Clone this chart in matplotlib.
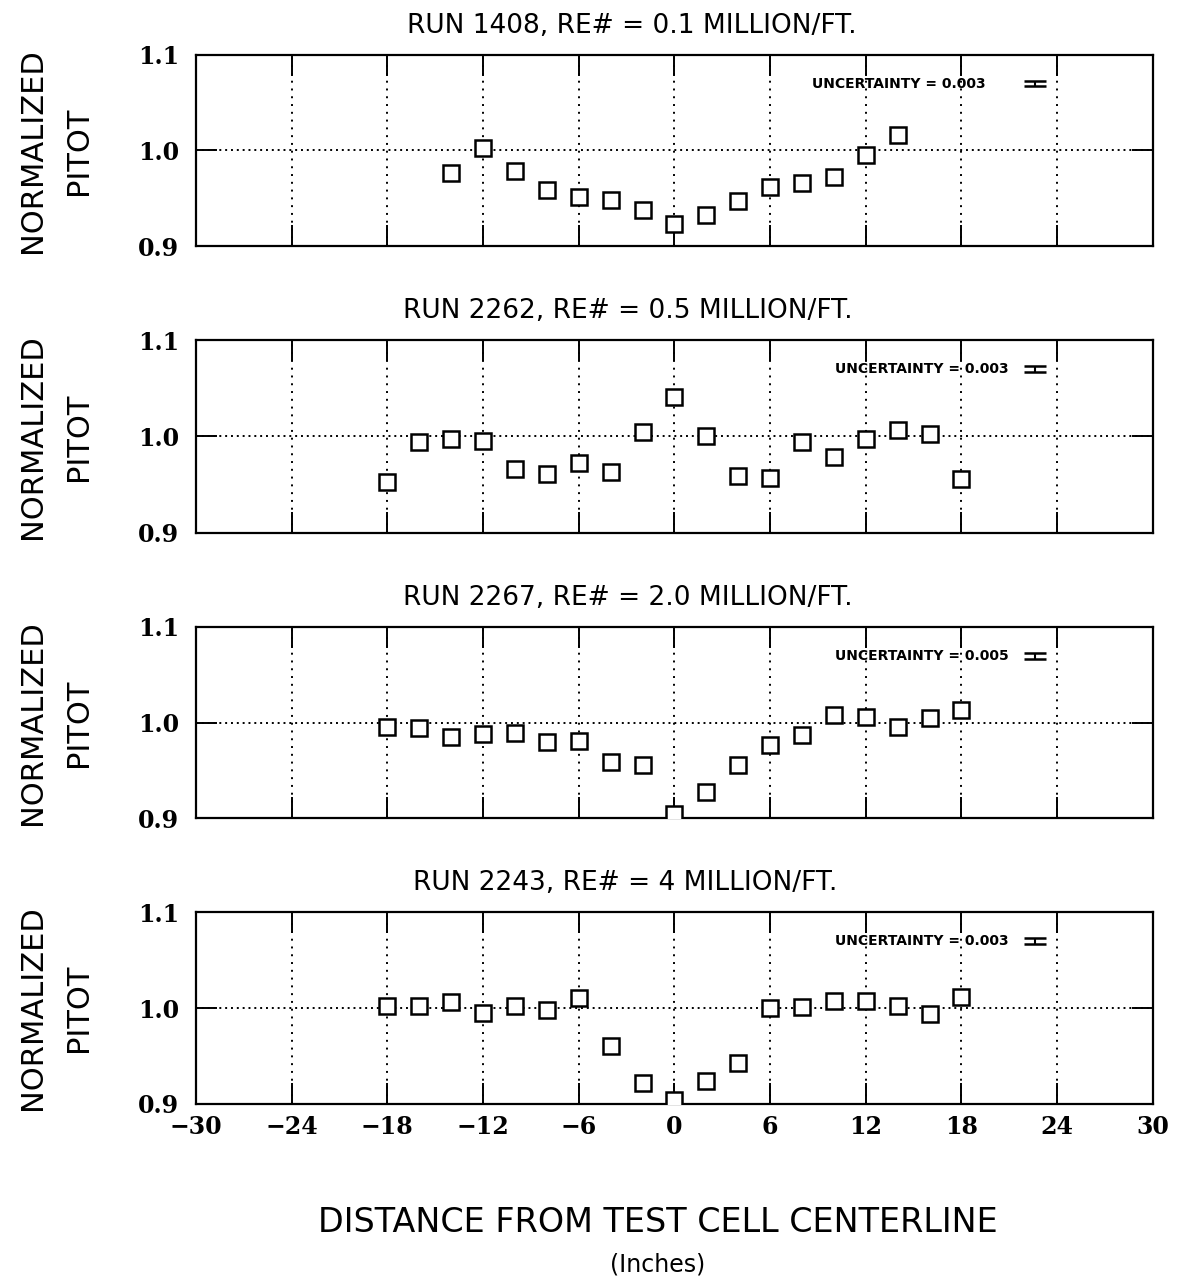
import matplotlib
matplotlib.use("Agg")
import matplotlib.pyplot as plt

titles = ["RUN 1408, RE# = 0.1 MILLION/FT.",
          "RUN 2262, RE# = 0.5 MILLION/FT.",
          "RUN 2267, RE# = 2.0 MILLION/FT.",
          "RUN 2243, RE# = 4 MILLION/FT."]
uncert_labels = ["UNCERTAINTY = 0.003", "UNCERTAINTY = 0.003",
                 "UNCERTAINTY = 0.005", "UNCERTAINTY = 0.003"]
uncert_value = 0.003

x1 = [-14, -12, -10, -8, -6, -4, -2, 0, 2, 4, 6, 8, 10, 12, 14]
y1 = [0.976, 1.003, 0.979, 0.959, 0.951, 0.948, 0.938, 0.923, 0.932,
      0.947, 0.962, 0.966, 0.972, 0.995, 1.016]

x2 = [-18, -16, -14, -12, -10, -8, -6, -4, -2, 0, 2, 4, 6, 8, 10, 12, 14, 16, 18]
y2 = [0.953, 0.994, 0.997, 0.995, 0.966, 0.961, 0.973, 0.963, 1.005, 1.041,
      1.001, 0.959, 0.957, 0.994, 0.979, 0.997, 1.007, 1.003, 0.956]

x3 = [-18, -16, -14, -12, -10, -8, -6, -4, -2, 0, 2, 4, 6, 8, 10, 12, 14, 16, 18]
y3 = [0.995, 0.994, 0.985, 0.988, 0.989, 0.980, 0.981, 0.959, 0.956, 0.904,
      0.927, 0.956, 0.976, 0.987, 1.008, 1.006, 0.995, 1.005, 1.013]

x4 = [-18, -16, -14, -12, -10, -8, -6, -4, -2, 0, 2, 4, 6, 8, 10, 12, 14, 16, 18]
y4 = [1.002, 1.002, 1.006, 0.995, 1.002, 0.998, 1.010, 0.960, 0.922, 0.904,
      0.924, 0.943, 1.000, 1.001, 1.007, 1.007, 1.002, 0.994, 1.011]

xs = [x1, x2, x3, x4]
ys = [y1, y2, y3, y4]

xticks = [-30, -24, -18, -12, -6, 0, 6, 12, 18, 24, 30]
yticks = [0.9, 1.0, 1.1]
xtick_labels = ["\u221230", "\u221224", "\u221218", "\u221212", "\u22126", "0",
                "6", "12", "18", "24", "30"]
ytick_labels = ["0.9", "1.0", "1.1"]

fig = plt.figure(figsize=(11.77, 12.84), dpi=100)

left, width = 0.1665, 0.813
bottoms = [0.8084, 0.5849, 0.3629, 0.1402]
heights = [0.1488, 0.1503, 0.1488, 0.1495]
uncert_x = [14.1, 15.5, 15.5, 15.5]
title_x = [0.455, 0.451, 0.451, 0.449]

tick_font = dict(family="DejaVu Serif", weight="bold", size=17)
text_font = "DejaVu Sans"

for i in range(4):
    ax = fig.add_axes([left, bottoms[i], width, heights[i]])
    ax.set_xlim(-30, 30)
    ax.set_ylim(0.9, 1.1)
    for xv in xticks[1:-1]:
        ax.axvline(xv, color="black", linestyle=(0, (1, 3)), linewidth=1.4, zorder=1)
    ax.axhline(1.0, color="black", linestyle=(0, (1, 2)), linewidth=1.4, zorder=1)
    ax.plot(xs[i], ys[i], linestyle="none", marker="s", markersize=12,
            markerfacecolor="white", markeredgecolor="black", markeredgewidth=1.8,
            zorder=3)
    ax.set_xticks(xticks)
    ax.set_yticks(yticks)
    ax.tick_params(direction="in", length=15, width=1.4, top=True, right=True,
                   pad=12)
    ax.set_yticklabels(ytick_labels, fontdict=tick_font)
    if i == 3:
        ax.set_xticklabels(xtick_labels, fontdict=tick_font)
        ax.tick_params(axis="x", pad=8)
    else:
        ax.set_xticklabels([])
    for sp in ax.spines.values():
        sp.set_linewidth(1.6)
    ax.text(title_x[i], 1.15, titles[i], transform=ax.transAxes, ha="center",
            va="center", fontsize=19, family=text_font)
    ax.text(uncert_x[i], 1.07, uncert_labels[i], ha="center", va="center",
            fontsize=10, family=text_font, weight="bold")
    ax.errorbar([22.6], [1.07], yerr=[uncert_value], fmt="none", ecolor="black",
                elinewidth=1.5, capsize=8, capthick=1.8)
    ax.text(-0.171, 0.5, "NORMALIZED", transform=ax.transAxes, rotation=90,
            ha="center", va="center", fontsize=22, family=text_font)
    ax.text(-0.123, 0.5, "PITOT", transform=ax.transAxes, rotation=90,
            ha="center", va="center", fontsize=22, family=text_font)

fig.text(0.559, 0.048, "DISTANCE FROM TEST CELL CENTERLINE", ha="center",
         va="center", fontsize=24, family=text_font)
fig.text(0.559, 0.015, "(Inches)", ha="center", va="center", fontsize=17,
         family=text_font)

fig.savefig("out.png", dpi=100, facecolor="white")
